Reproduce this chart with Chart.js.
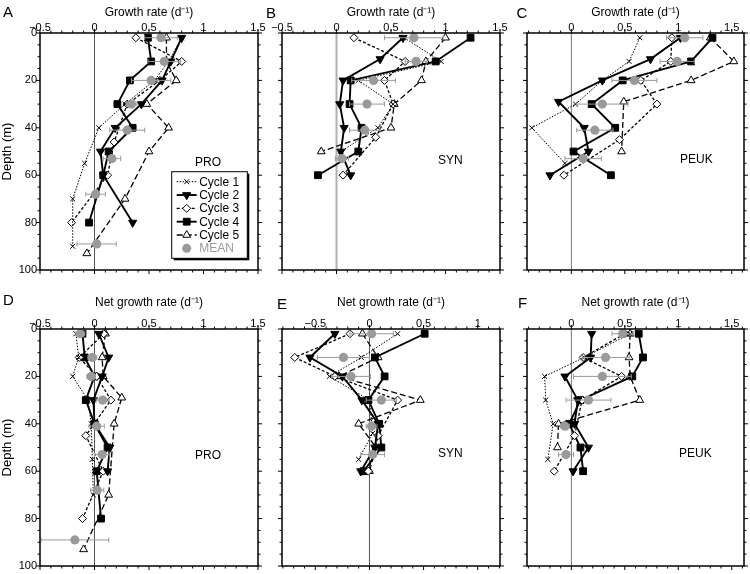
<!DOCTYPE html>
<html>
<head>
<meta charset="utf-8">
<script src="https://cdn.jsdelivr.net/npm/chart.js@4.4.0/dist/chart.umd.min.js"></script>
<style>
  body { margin: 0; background: #fff; width: 750px; height: 574px; position: relative; overflow: hidden;
         font-family: "Liberation Sans", Arial, sans-serif; }
  canvas { position: absolute; }
  .lbl { position: absolute; white-space: nowrap; line-height: 1; color: #000; }
</style>
</head>
<body>
<script>
// ---- data: [value, depth (m)] ; mean rows are [value, depth, error] ----
const depthTicks = [0, 20, 40, 60, 80, 100];
const ticksWide = [-0.5, 0, 0.5, 1, 1.5];
const ticksE = [-0.5, 0, 0.5, 1];
const ticksRight = [0, 0.5, 1, 1.5];

// A  PRO growth
const A_c1 = [[0.80,2],[0.68,12],[0.55,20],[0.28,30],[0.04,40],[-0.09,55],[-0.20,70],[-0.20,90]];
const A_c2 = [[0.80,2],[0.70,12],[0.62,20],[0.43,30],[0.19,40],[0.055,50],[0.08,60],[0.35,80]];
const A_c3 = [[0.38,2],[0.80,12],[0.60,20],[0.30,30],[0.18,46],[0.12,60],[-0.21,80]];
const A_c4 = [[0.49,2],[0.52,12],[0.325,20],[0.21,30],[0.35,40],[0.13,50],[0.08,60],[-0.05,80]];
const A_c5 = [[0.66,2],[0.66,12],[0.75,20],[0.48,30],[0.68,40],[0.50,50],[0.28,70],[-0.07,93]];
const A_mean = [[0.61,2,0.15],[0.64,12,0.15],[0.52,20,0.18],[0.34,30,0.05],[0.30,41,0.16],[0.16,53,0.08],[0.01,68,0.09],[0.02,89,0.18]];

// B  SYN growth
const B_c1 = [[0.62,2],[0.96,12],[0.20,20],[0.52,30],[0.38,40],[0.04,50]];
const B_c2 = [[0.61,2],[0.40,11],[0.06,20],[0.03,30],[0.07,40],[0.04,50],[0.13,60]];
const B_c3 = [[0.16,2],[0.63,12],[0.44,20],[0.52,30],[0.36,44],[0.06,60]];
const B_c4 = [[1.23,2],[0.91,12],[0.13,20],[0.12,30],[0.23,40],[0.20,50],[-0.17,60]];
const B_c5 = [[1.00,2],[0.82,12],[0.78,20],[0.53,30],[0.50,40],[-0.14,50]];
const B_mean = [[0.71,2,0.27],[0.73,12,0.10],[0.34,20,0.20],[0.28,30,0.16],[0.26,41,0.14],[0.05,53,0.06]];

// C  PEUK growth
const C_c1 = [[0.64,2],[0.54,12],[0.29,20],[0.04,30],[-0.37,40],[-0.06,55]];
const C_c2 = [[1.02,2],[0.74,11],[0.29,20],[-0.12,29],[0.12,40],[0.16,50],[-0.20,60]];
const C_c3 = [[0.94,2],[0.93,12],[0.65,20],[0.80,30],[0.45,45],[-0.07,60]];
const C_c4 = [[1.32,2],[1.12,12],[0.48,20],[0.19,30],[0.41,40],[0.02,50],[0.37,60]];
const C_c5 = [[1.30,2],[1.52,12],[1.12,20],[0.49,29],[0.47,50]];
const C_mean = [[1.06,2,0.17],[0.99,12,0.16],[0.59,20,0.21],[0.29,30,0.24],[0.22,41,0.17],[0.11,53,0.17]];

// D  PRO net growth
const D_c1 = [[-0.17,2],[-0.145,12],[-0.20,20],[-0.06,30],[-0.03,40],[-0.02,55],[-0.01,70]];
const D_c2 = [[0.04,2],[0.13,12],[0.07,20],[-0.01,30],[0.0,40],[0.14,50],[0.12,60]];
const D_c3 = [[0.085,2],[-0.14,12],[0.02,20],[0.15,30],[-0.08,45],[0.08,60],[-0.11,80]];
const D_c4 = [[-0.11,2],[-0.09,12],[0.0,20],[-0.08,30],[0.0,40],[0.12,50],[0.02,60],[0.06,80]];
const D_c5 = [[0.10,2],[0.07,12],[0.08,20],[0.25,29],[0.18,40],[0.13,70],[-0.10,93]];
const D_mean = [[-0.13,2,0.04],[-0.02,12,0.04],[-0.03,20,0.04],[0.075,30,0.06],[0.02,41,0.07],[0.07,53,0.07],[0.025,68,0.06],[-0.18,89,0.31]];

// E  SYN net growth
const E_c1 = [[0.26,2],[-0.075,12],[-0.37,20],[0.0,30],[0.03,44],[-0.10,55]];
const E_c2 = [[-0.32,2],[-0.55,12],[-0.25,20],[-0.07,30],[0.08,40],[0.05,50],[-0.08,60]];
const E_c3 = [[-0.18,2],[-0.69,12],[-0.32,20],[0.26,30],[0.08,45],[-0.01,60]];
const E_c4 = [[0.51,2],[0.05,12],[0.14,20],[-0.01,30],[0.09,40],[0.11,50],[-0.055,60]];
const E_c5 = [[-0.065,2],[0.08,12],[-0.28,20],[0.47,30],[-0.10,40],[0.06,50],[0.0,60]];
const E_mean = [[0.02,2,0.20],[-0.24,12,0.24],[-0.17,20,0.18],[0.11,30,0.14],[0.02,41,0.05],[0.03,53,0.11]];

// F  PEUK net growth
const F_c1 = [[0.55,2],[0.12,12],[-0.25,20],[-0.24,30],[-0.17,40],[-0.22,55]];
const F_c2 = [[0.19,2],[0.18,12],[-0.06,20],[0.06,30],[0.03,40],[0.16,50],[0.016,60]];
const F_c3 = [[0.50,2],[0.11,12],[0.47,20],[0.10,30],[0.03,45],[-0.16,60]];
const F_c4 = [[0.63,2],[0.67,12],[0.57,20],[0.085,30],[-0.02,40],[0.085,50],[0.11,60]];
const F_c5 = [[0.55,2],[0.54,12],[0.55,20],[0.64,30],[-0.12,40],[-0.13,50]];
const F_mean = [[0.48,2,0.10],[0.32,12,0.22],[0.29,20,0.27],[0.16,30,0.21],[-0.06,41,0.04],[-0.05,53,0.07]];

const cycleNames = ['Cycle 1', 'Cycle 2', 'Cycle 3', 'Cycle 4', 'Cycle 5'];

// ---- styles ----
const GREY = '#9a9a9a';
const cycleStyle = [
  { borderWidth: 1,   borderDash: [1.5, 1.5], pointStyle: 'crossRot', pointRadius: 3.5, pointBackgroundColor: '#000', pointRotation: 0 },
  { borderWidth: 1.9, borderDash: [],         pointStyle: 'triangle', pointRadius: 4.7, pointBackgroundColor: '#000', pointRotation: 180 },
  { borderWidth: 1.3, borderDash: [3, 2],     pointStyle: 'rectRot',  pointRadius: 4,   pointBackgroundColor: '#fff', pointRotation: 0 },
  { borderWidth: 1.9, borderDash: [],         pointStyle: 'rect',     pointRadius: 4.8, pointBackgroundColor: '#000', pointRotation: 0 },
  { borderWidth: 1.3, borderDash: [6, 3],     pointStyle: 'triangle', pointRadius: 4.5, pointBackgroundColor: '#fff', pointRotation: 0 }
];

Chart.defaults.font.family = '"Liberation Sans", Arial, sans-serif';
Chart.defaults.color = '#000';

function fmt(v) {
  return v < 0 ? '\u2212' + Math.abs(v) : String(v);
}

function drawMarker(ctx, st, x, y) {
  ctx.save();
  ctx.setLineDash([]);
  ctx.fillStyle = st.pointBackgroundColor;
  ctx.strokeStyle = '#000';
  ctx.lineWidth = 1;
  Chart.helpers.drawPoint(ctx, { pointStyle: st.pointStyle, rotation: st.pointRotation, radius: st.pointRadius, borderWidth: 1 }, x, y);
  ctx.restore();
}

const decor = {
  id: 'decor',
  beforeDatasetsDraw(chart, args, opts) {
    const { ctx, chartArea: a, scales: { x } } = chart;
    const x0 = x.getPixelForValue(0);
    ctx.save();
    ctx.strokeStyle = opts.zeroColor;
    ctx.lineWidth = opts.zeroWidth;
    ctx.beginPath();
    ctx.moveTo(x0, a.top);
    ctx.lineTo(x0, a.bottom);
    ctx.stroke();
    ctx.restore();
  },
  beforeDatasetDraw(chart, args, opts) {
    if (args.index !== 0) return;
    const { ctx, scales: { x, y } } = chart;
    ctx.save();
    ctx.strokeStyle = GREY;
    ctx.lineWidth = 1;
    ctx.beginPath();
    opts.mean.forEach(m => {
      const py = y.getPixelForValue(m[1]);
      const l = x.getPixelForValue(m[0] - m[2]);
      const r = x.getPixelForValue(m[0] + m[2]);
      ctx.moveTo(l, py); ctx.lineTo(r, py);
      ctx.moveTo(l, py - 2.5); ctx.lineTo(l, py + 2.5);
      ctx.moveTo(r, py - 2.5); ctx.lineTo(r, py + 2.5);
    });
    ctx.stroke();
    ctx.restore();
  },
  afterDraw(chart, args, opts) {
    const { ctx, chartArea: a, scales: { x, y } } = chart;
    ctx.save();
    ctx.strokeStyle = '#000';
    ctx.lineWidth = 1;
    ctx.beginPath();
    for (let v = Math.ceil(x.min * 10 - 1e-6); v <= Math.floor(x.max * 10 + 1e-6); v++) {
      const px = x.getPixelForValue(v / 10);
      const len = v % 5 === 0 ? 4 : 2.5;
      ctx.moveTo(px, a.top); ctx.lineTo(px, a.top - len);
      ctx.moveTo(px, a.bottom); ctx.lineTo(px, a.bottom + len);
    }
    for (let d = 0; d <= 100; d += 5) {
      const py = y.getPixelForValue(d);
      const len = d % 20 === 0 ? 4 : 2.5;
      ctx.moveTo(a.left, py); ctx.lineTo(a.left - len, py);
      ctx.moveTo(a.right, py); ctx.lineTo(a.right + len, py);
    }
    ctx.stroke();
    ctx.lineWidth = 1.5;
    ctx.strokeRect(a.left, a.top, a.right - a.left, a.bottom - a.top);

    if (opts.legend) {
      const lg = opts.legend;
      const bx = lg.x, by = lg.y, bw = lg.w, bh = lg.h;
      ctx.fillStyle = '#000';
      ctx.fillRect(bx + 2, by + 2, bw, bh);
      ctx.fillStyle = '#fff';
      ctx.fillRect(bx, by, bw, bh);
      ctx.lineWidth = 1;
      ctx.strokeRect(bx, by, bw, bh);
      ctx.font = '12px "Liberation Sans", Arial, sans-serif';
      ctx.textBaseline = 'middle';
      for (let i = 0; i < 6; i++) {
        const ry = by + 10 + i * 13.33;
        if (i < 5) {
          const st = cycleStyle[i];
          ctx.save();
          ctx.strokeStyle = '#000';
          ctx.lineWidth = st.borderWidth;
          ctx.setLineDash(st.borderDash);
          ctx.beginPath();
          ctx.moveTo(bx + 5, ry); ctx.lineTo(bx + 25, ry);
          ctx.stroke();
          ctx.restore();
          drawMarker(ctx, st, bx + 15, ry);
          ctx.fillStyle = '#000';
          ctx.fillText(cycleNames[i], bx + 27.5, ry + 0.5);
        } else {
          ctx.fillStyle = GREY;
          ctx.beginPath();
          ctx.arc(bx + 15, ry, 4.5, 0, Math.PI * 2);
          ctx.fill();
          ctx.fillText('MEAN', bx + 27.5, ry + 0.5);
        }
      }
    }
    ctx.restore();
  }
};

// ---- layout of the six panels ----
const panels = [
  { letter: 'A', name: 'PRO',  title: 'Growth rate (d\u207B\u00B9)',     series: [A_c1, A_c2, A_c3, A_c4, A_c5], mean: A_mean,
    box: [40, 33, 258, 270], ctop: 0,   min: -0.5,  max: 1.5,  ticks: ticksWide,  yLabels: true,  zero: ['#555', 1],
    titlePad: 5.8, letterPos: [3, 11.7], namePos: [195, 161.7], legend: true },
  { letter: 'B', name: 'SYN',  title: 'Growth rate (d\u207B\u00B9)',     series: [B_c1, B_c2, B_c3, B_c4, B_c5], mean: B_mean,
    box: [282, 33, 500, 270], ctop: 0,  min: -0.5,  max: 1.5,  ticks: ticksWide,  yLabels: false, zero: ['#b0b0b0', 2],
    titlePad: 5.8, letterPos: [266, 12], namePos: [438, 160] },
  { letter: 'C', name: 'PEUK', title: 'Growth rate (d\u207B\u00B9)',     series: [C_c1, C_c2, C_c3, C_c4, C_c5], mean: C_mean,
    box: [527, 33, 744, 270], ctop: 0,  min: -0.415, max: 1.615, ticks: ticksRight, yLabels: false, zero: ['#777', 1],
    titlePad: 5.8, letterPos: [516.5, 12], namePos: [680, 159] },
  { letter: 'D', name: 'PRO',  title: 'Net growth rate (d\u207B\u00B9)', series: [D_c1, D_c2, D_c3, D_c4, D_c5], mean: D_mean,
    box: [40, 329, 258, 566], ctop: 280, min: -0.5, max: 1.5,  ticks: ticksWide,  yLabels: true,  zero: ['#555', 1],
    titlePad: 15.5, letterPos: [3, 299], namePos: [195, 455] },
  { letter: 'E', name: 'SYN',  title: 'Net growth rate (d\u207B\u00B9)', series: [E_c1, E_c2, E_c3, E_c4, E_c5], mean: E_mean,
    box: [282, 329, 500, 566], ctop: 280, min: -0.808, max: 1.206, ticks: ticksE, yLabels: false, zero: ['#555', 1],
    titlePad: 15.5, letterPos: [277, 303.3], namePos: [438, 453] },
  { letter: 'F', name: 'PEUK', title: 'Net growth rate (d\u207B\u00B9)', series: [F_c1, F_c2, F_c3, F_c4, F_c5], mean: F_mean,
    box: [527, 329, 744, 566], ctop: 280, min: -0.415, max: 1.615, ticks: ticksRight, yLabels: false, zero: ['#777', 1],
    titlePad: 15.5, letterPos: [518, 302.5], namePos: [679, 453] }
];

function addLabel(text, x, yCenter, size) {
  const d = document.createElement('div');
  d.className = 'lbl';
  d.textContent = text;
  d.style.fontSize = size + 'px';
  d.style.left = x + 'px';
  d.style.top = (yCenter - size / 2) + 'px';
  document.body.appendChild(d);
}

panels.forEach(p => {
  const cLeft = p.box[0] - 40;
  const cTop = p.ctop;
  const axisH = p.box[1] - cTop;
  const cv = document.createElement('canvas');
  cv.width = p.box[2] - cLeft + 12;
  cv.height = p.box[3] - cTop + 10;
  cv.style.left = cLeft + 'px';
  cv.style.top = cTop + 'px';
  document.body.appendChild(cv);

  const datasets = [{
    label: 'MEAN',
    data: p.mean.map(m => ({ x: m[0], y: m[1] })),
    showLine: false,
    pointStyle: 'circle',
    pointRadius: 4.6,
    pointBackgroundColor: GREY,
    pointBorderColor: GREY,
    pointBorderWidth: 0
  }];
  p.series.forEach((s, i) => {
    const st = cycleStyle[i];
    datasets.push({
      label: cycleNames[i],
      data: s.map(v => ({ x: v[0], y: v[1] })),
      showLine: true,
      borderColor: '#000',
      borderWidth: st.borderWidth,
      borderDash: st.borderDash,
      pointStyle: st.pointStyle,
      pointRadius: st.pointRadius,
      pointRotation: st.pointRotation,
      pointBackgroundColor: st.pointBackgroundColor,
      pointBorderColor: '#000',
      pointBorderWidth: 1
    });
  });

  new Chart(cv, {
    type: 'scatter',
    data: { datasets: datasets },
    options: {
      responsive: false,
      animation: false,
      events: [],
      layout: { padding: { left: 0, top: 0, right: 12, bottom: 10 } },
      plugins: {
        legend: { display: false },
        tooltip: { enabled: false },
        decor: {
          zeroColor: p.zero[0], zeroWidth: p.zero[1], mean: p.mean,
          legend: p.legend ? { x: 171.7 - cLeft, y: 171.7 - cTop, w: 75.6, h: 86.6 } : null
        }
      },
      scales: {
        x: {
          type: 'linear', position: 'top', min: p.min, max: p.max,
          afterBuildTicks: s => { s.ticks = p.ticks.map(v => ({ value: v })); },
          afterFit: s => { s.height = axisH; },
          grid: { display: false, drawTicks: false },
          border: { display: false },
          ticks: { font: { size: 11 }, padding: -2, autoSkip: false, maxRotation: 0, callback: v => fmt(v) },
          title: { display: true, text: p.title, font: { size: 12 }, padding: { top: p.titlePad, bottom: 0 } }
        },
        y: {
          type: 'linear', position: 'left', reverse: true, min: 0, max: 100,
          afterBuildTicks: s => { s.ticks = depthTicks.map(v => ({ value: v })); },
          afterFit: s => { s.width = 40; },
          grid: { display: false, drawTicks: false },
          border: { display: false },
          ticks: { display: p.yLabels, font: { size: 11 }, padding: 3, autoSkip: false },
          title: { display: p.yLabels, text: 'Depth (m)', font: { size: 13 }, padding: 0 }
        }
      }
    },
    plugins: [decor]
  });

  addLabel(p.letter, p.letterPos[0], p.letterPos[1], 15);
  addLabel(p.name, p.namePos[0], p.namePos[1], 12);
});
</script>
</body>
</html>
